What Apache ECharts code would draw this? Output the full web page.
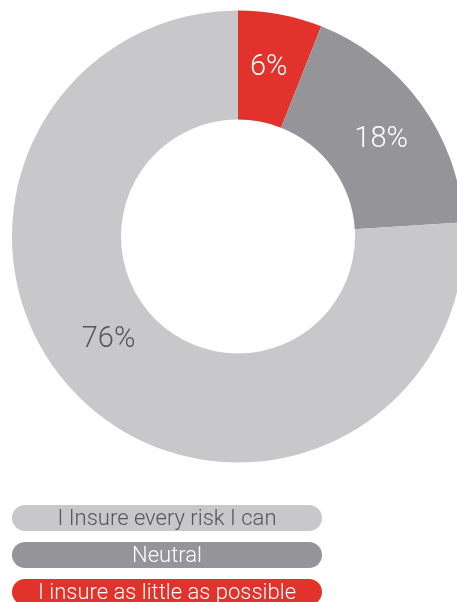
<!DOCTYPE html>
<html><head><meta charset="utf-8">
<script src="https://cdn.jsdelivr.net/npm/echarts@6/dist/echarts.min.js"></script>
<style>html,body{margin:0;padding:0;background:#fff}#c{width:457px;height:602px}</style>
</head><body><div id="c"></div>
<script>
// Data (clockwise from top)
const categories = ['I insure as little as possible', 'Neutral', 'I Insure every risk I can'];
const values = [6, 18, 76];
const colors = ['#e1322c', '#959499', '#c8c8ca'];
const labelColors = ['#ffffff', '#ffffff', '#55565a'];
// Legend order top to bottom
const legendOrder = [2, 1, 0];

const chart = echarts.init(document.getElementById('c'), null, {renderer: 'canvas'});
const font = 'Roboto, "Liberation Sans", Helvetica, Arial, sans-serif';

const graphics = legendOrder.map((idx, i) => ({
  type: 'group',
  left: 12,
  top: 505 + i * 37,
  children: [
    { type: 'rect', shape: { x: 0, y: 0, width: 310, height: 26, r: 13 }, style: { fill: colors[idx] } },
    { type: 'text', x: 155, y: 14, style: { text: categories[idx], fill: labelColors[idx], font: '300 22px ' + font, textAlign: 'center', textVerticalAlign: 'middle' } }
  ]
}));

chart.setOption({
  animation: false,
  series: [{
    type: 'pie',
    center: [238, 236.5],
    radius: [117, 226],
    startAngle: 90,
    clockwise: true,
    label: {
      show: true,
      position: 'inside',
      formatter: p => p.value + '%',
      fontSize: 29,
      fontWeight: 300,
      fontFamily: font
    },
    labelLine: { show: false },
    emphasis: { disabled: true },
    labelLayout: function (p) {
      if (p.dataIndex === 2) return { dx: -10, dy: -24 };
      if (p.dataIndex === 0) return { dx: -2, dy: 3 };
      if (p.dataIndex === 1) return { dx: 2, dy: 6 };
      return {};
    },
    data: categories.map((name, i) => ({
      name: name,
      value: values[i],
      itemStyle: { color: colors[i] },
      label: { color: labelColors[i] }
    }))
  }],
  graphic: graphics
});
</script>
</body></html>
